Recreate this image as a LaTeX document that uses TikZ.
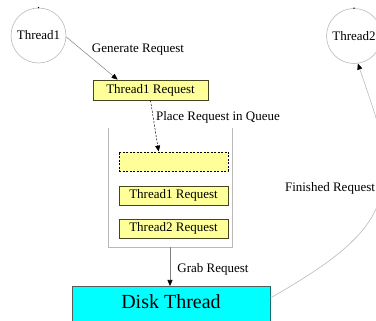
\documentclass[tikz,border=0pt]{standalone}
\usepackage{fontspec}
\setmainfont{Liberation Serif}
\usetikzlibrary{arrows.meta}
\definecolor{reqfill}{RGB}{255,255,153}
\definecolor{reqline}{RGB}{70,70,30}
\definecolor{lightline}{RGB}{185,185,185}
\definecolor{midline}{RGB}{130,130,130}
\definecolor{diskfill}{RGB}{0,255,255}
\definecolor{diskline}{RGB}{90,90,90}
\definecolor{diskedge}{RGB}{0,110,110}
\begin{document}
\begin{tikzpicture}[x=1pt,y=-1pt,
  font=\fontsize{13}{15}\selectfont,
  thread/.style={circle,draw=lightline,line width=0.6pt,minimum size=55pt,inner sep=0pt},
  req/.style={draw=reqline,fill=reqfill,minimum width=109pt,minimum height=19pt,inner sep=0pt,line width=0.8pt},
  lbl/.style={inner sep=0pt},
  tip/.style={-{Triangle[length=6pt,width=5pt,color=black]}},
  disk/.style={draw=diskline,fill=diskfill,line width=0.9pt,minimum width=198pt,inner xsep=0pt,inner ysep=3pt,
    text height=19.5pt,text depth=20pt,anchor=north,font=\fontsize{20}{24}\selectfont}
]
\useasboundingbox (0,0) rectangle (376,321);
\clip (0,0) rectangle (376,321);
% threads
\node[thread] (t1) at (38.5,35.5) {Thread1};
\node[thread] (t2) at (354,36) {Thread2};
\fill (t1.north) circle (0.8pt);
\fill (t2.north) circle (0.8pt);
% request box
\node[req,minimum width=115pt,minimum height=20pt] (r1) at (150.5,90) {Thread1 Request};
% queue container
\coordinate (qtl) at (108,128);
\coordinate (qbl) at (108,247);
\coordinate (qbr) at (232,247);
\coordinate (qtr) at (232,128);
\coordinate (qb) at (170,247);
\draw[draw=lightline,line width=0.8pt] (qtl) -- (qbl) -- (qbr) -- (qtr);
\node[req,draw=black,dash pattern=on 2pt off 1.5pt] (q0) at (173.5,161.5) {};
\node[req] (q1) at (173.5,195.5) {Thread1 Request};
\node[req] (q2) at (173.5,228.5) {Thread2 Request};
% disk thread
\node[disk] (d) at (171,286) {Disk Thread};
\draw[draw=diskedge,line width=1.2pt] (d.north east) -- (d.south east);
% labels
\node[lbl] (lg) at (138,50) {Generate Request};
\node[lbl] (lp) at (218,117) {Place Request in Queue};
\node[lbl] (lf) at (330,188) {Finished Request};
\node[lbl] (lb) at (213,269) {Grab Request};
% connectors
\draw[tip,draw=midline,line width=0.5pt] (t1.-3) -- ([xshift=25pt]r1.north west);
\draw[tip,dash pattern=on 2pt off 1.5pt,line width=0.5pt] (r1.south) -- ([xshift=40pt]q0.north west);
\draw[tip,draw=midline,line width=0.6pt] (qb) -- (qb |- d.north);
\draw[tip,draw=lightline,line width=0.6pt] ([yshift=-12pt]d.north east)
   .. controls (340,258) and (385,225) .. (382,175)
   .. controls (384,140) .. (t2.-82);
\end{tikzpicture}
\end{document}
